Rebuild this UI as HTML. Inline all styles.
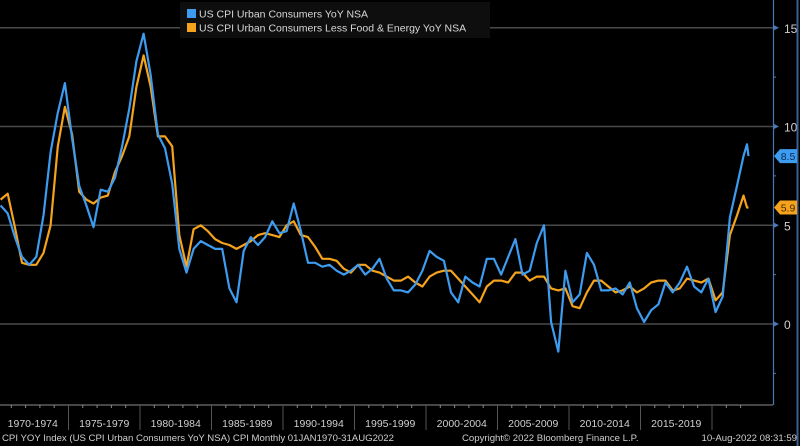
<!DOCTYPE html>
<html><head><meta charset="utf-8"><style>
html,body{margin:0;padding:0;background:#000;width:800px;height:446px;overflow:hidden}
svg{display:block;font-family:"Liberation Sans",sans-serif}
</style></head><body>
<svg id="chart" width="800" height="446" viewBox="0 0 800 446">
<rect x="0" y="0" width="800" height="446" fill="#000"/>
<g id="grid"></g><g id="series"></g><g id="axes"></g>
<g>
<rect x="180" y="2" width="310" height="36" fill="#0e0e0e"/>
<rect x="187" y="9" width="9" height="9" fill="#3d9bf0"/>
<text x="199" y="17.5" fill="#d8d8d8" font-size="10.5">US CPI Urban Consumers YoY NSA</text>
<rect x="187" y="23" width="9" height="9" fill="#f5a21c"/>
<text x="199" y="31.5" fill="#d8d8d8" font-size="10.5">US CPI Urban Consumers Less Food &amp; Energy YoY NSA</text>
</g>
<text x="2" y="441" fill="#cfcfcf" font-size="9.6">CPI YOY Index (US CPI Urban Consumers YoY NSA) CPI  Monthly 01JAN1970-31AUG2022</text>
<text x="462" y="441" fill="#cfcfcf" font-size="9.6">Copyright© 2022 Bloomberg Finance L.P.</text>
<text x="797" y="441" fill="#cfcfcf" font-size="9.6" text-anchor="end">10-Aug-2022 08:31:59</text>
</svg>
<script>
const headline=[6.0,5.6,4.4,3.4,3.0,3.4,5.5,8.7,10.7,12.2,9.4,7.0,6.0,4.9,6.8,6.7,7.4,9.0,10.9,13.3,14.7,12.6,9.6,8.9,7.1,3.8,2.6,3.8,4.2,4.0,3.8,3.8,1.8,1.1,3.7,4.4,4.0,4.4,5.2,4.6,4.7,6.1,4.7,3.1,3.1,2.9,3.0,2.7,2.5,2.7,3.0,2.5,2.8,3.3,2.3,1.7,1.7,1.6,2.0,2.7,3.7,3.4,3.2,1.6,1.1,2.4,2.1,1.9,3.3,3.3,2.5,3.4,4.3,2.5,2.7,4.1,5.0,0.1,-1.4,2.7,1.1,1.5,3.6,3.0,1.7,1.7,1.8,1.5,2.1,0.8,0.1,0.7,1.0,2.1,1.6,2.1,2.9,1.9,1.6,2.3,0.6,1.4,5.4,7.0,8.5,9.1,8.5];
const core=[6.3,6.6,4.9,3.1,3.0,3.0,3.6,5.0,9.0,11.0,9.6,6.7,6.3,6.1,6.4,6.5,7.7,8.5,9.5,12.0,13.6,12.0,9.5,9.5,9.0,4.5,2.9,4.8,5.0,4.7,4.3,4.1,4.0,3.8,4.0,4.2,4.5,4.6,4.5,4.4,5.0,5.2,4.5,4.4,3.9,3.3,3.3,3.2,2.8,2.6,3.0,3.0,2.7,2.6,2.4,2.2,2.2,2.4,2.1,1.9,2.4,2.6,2.7,2.7,2.3,1.9,1.5,1.1,1.9,2.2,2.2,2.1,2.6,2.6,2.2,2.4,2.4,1.8,1.7,1.8,0.9,0.8,1.6,2.2,2.2,1.9,1.6,1.7,1.9,1.6,1.8,2.1,2.2,2.2,1.7,1.8,2.3,2.2,2.1,2.3,1.2,1.6,4.5,5.5,6.5,5.9,5.9];
const lastDates=[2022.2,2022.45,2022.55];
const yTicks=[0,5,10,15];
const periodLabels=["1970-1974","1975-1979","1980-1984","1985-1989","1990-1994","1995-1999","2000-2004","2005-2009","2010-2014","2015-2019"];
const lastValues=[8.5,5.9];

const NS="http://www.w3.org/2000/svg";
const X=t=>-3+(t-1970)*14.3;
const Y=v=>324-v*19.75;
function mk(tag,attrs,parent){const e=document.createElementNS(NS,tag);for(const k in attrs)e.setAttribute(k,attrs[k]);parent.appendChild(e);return e;}
const grid=document.getElementById('grid'),series=document.getElementById('series'),axes=document.getElementById('axes');
const dates=headline.map((_,i)=>i<headline.length-3?1970.25+i*0.5:lastDates[i-(headline.length-3)]);

yTicks.forEach(v=>{
  const l=mk('line',{x1:0,x2:773,y1:Y(v),y2:Y(v),stroke:'#4a4a4a','stroke-width':1.5},grid);
  
  
  const t=mk('text',{x:784,y:Y(v)+5,fill:'#cfcfcf','font-size':12},axes);
  t.textContent=v;
  
  
  mk('path',{d:`M773 ${Y(v)-3}L779 ${Y(v)}L773 ${Y(v)+3}Z`,fill:'#4b79b8'},axes);
});
for(let v=-2.5;v<=17.5;v+=5){mk('line',{x1:773,x2:776,y1:Y(v),y2:Y(v),stroke:'#4b79b8'},axes);}

function drawLine(vals,color,name){
  const d=vals.map((v,i)=>(i?'L':'M')+X(dates[i]).toFixed(1)+' '+Y(v).toFixed(1)).join('');
  const p=mk('path',{d:d,fill:'none',stroke:color,'stroke-width':2.2,'stroke-linejoin':'round'},series);
  
  
}
drawLine(core,'#f5a21c','series-core-cpi');
drawLine(headline,'#3d9bf0','series-headline-cpi');

mk('line',{x1:773.5,x2:773.5,y1:0,y2:405,stroke:'#4b79b8','stroke-width':1.2},axes);
mk('line',{x1:797.5,x2:797.5,y1:0,y2:446,stroke:'#3a5f94','stroke-width':2},axes);
mk('line',{x1:0,x2:773,y1:405,y2:405,stroke:'#707070','stroke-width':1.2},axes);
for(let y=1970;y<=2022;y++){mk('line',{x1:X(y),x2:X(y),y1:405,y2:408,stroke:'#888'},axes);}
periodLabels.forEach((s,i)=>{
  const x0=X(1970+5*i);
  const t=mk('text',{x:x0+35.75,y:427,fill:'#cfcfcf','font-size':10.5,'text-anchor':'middle'},axes);
  t.textContent=s;
  
  
  mk('line',{x1:X(1975+5*i),x2:X(1975+5*i),y1:405,y2:430,stroke:'#555'},axes);
});
const colors=['#3d9bf0','#f5a21c'],tcol=['#0a2a55','#4a2a00'];
lastValues.forEach((v,i)=>{
  const y=Y(v);
  const g=mk('g',{},axes);
  
  
  mk('path',{d:`M774 ${y}L780 ${y-7}L797 ${y-7}L797 ${y+7}L780 ${y+7}Z`,fill:colors[i]},g);
  const t=mk('text',{x:788,y:y+4,fill:tcol[i],'font-size':10.5,'text-anchor':'middle'},g);
  t.textContent=v.toFixed(1);
});
</script>
</body></html>
